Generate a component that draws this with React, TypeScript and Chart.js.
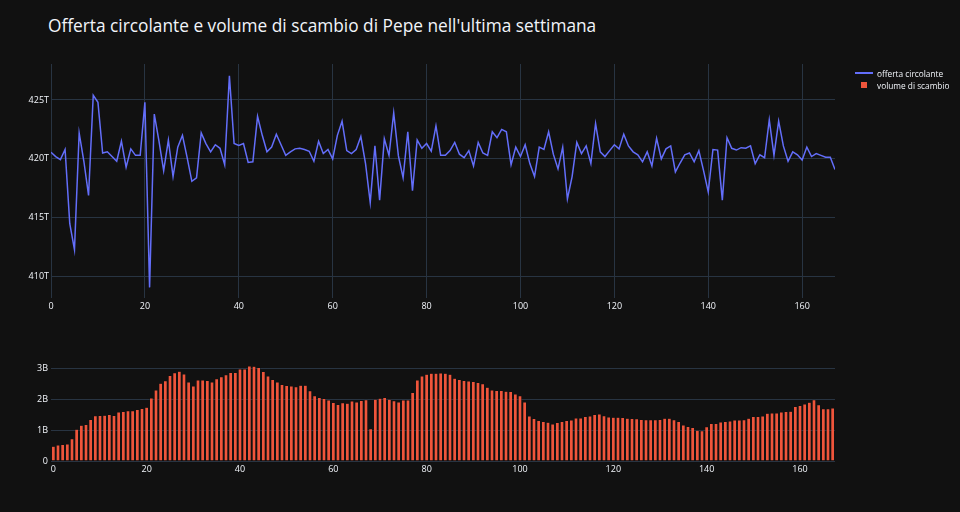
import React, { useEffect, useRef } from "react";
import { Chart, registerables } from "chart.js";

Chart.register(...registerables);

const hours: number[] = Array.from({ length: 168 }, (_, i) => i);

const supplyT: number[] = [
  420.57, 420.2, 419.94, 420.8, 414.5, 412.3, 422.2, 419.8, 416.9, 425.4,
  424.8, 420.5, 420.6, 420.2, 419.8, 421.5, 419.3, 420.85, 420.3, 420.3,
  424.8, 409.1, 423.8, 421.5, 419.0, 421.6, 418.5, 421.0, 422.0, 420.1,
  418.1, 418.4, 422.2, 421.3, 420.6, 421.2, 420.9, 419.5, 427.05, 421.3,
  421.15, 421.3, 419.7, 419.75, 423.6, 422.0, 420.6, 421.0, 422.1, 421.2,
  420.3, 420.6, 420.85, 420.9, 420.8, 420.65, 419.8, 421.5, 420.45, 420.8,
  420.0, 422.0, 423.2, 420.7, 420.45, 420.8, 421.9, 419.6, 416.3, 421.1,
  416.5, 421.7, 420.3, 423.9, 420.25, 418.4, 422.3, 417.3, 421.6, 420.9,
  421.3, 420.65, 422.8, 420.3, 420.3, 420.7, 421.4, 420.4, 420.1, 420.7,
  419.4, 421.4, 420.5, 420.3, 422.3, 421.8, 422.5, 422.3, 419.5, 421.0,
  420.2, 421.2, 419.6, 418.5, 421.0, 420.8, 422.3, 420.4, 419.15, 421.0,
  416.6, 418.5, 421.4, 420.45, 421.1, 419.6, 423.0, 420.6, 420.2, 420.7,
  421.2, 420.85, 422.1, 421.1, 420.6, 420.35, 419.75, 420.6, 419.4, 421.75,
  420.0, 420.85, 421.1, 418.9, 419.65, 420.35, 420.5, 419.75, 420.7, 419.0,
  417.2, 420.8, 420.75, 416.5, 421.8, 420.9, 420.75, 420.95, 420.9, 421.1,
  419.6, 420.35, 420.1, 423.3, 420.3, 423.2, 421.1, 419.8, 420.6, 420.35,
  419.9, 421.0, 420.2, 420.45, 420.3, 420.15, 420.15, 419.1,
];

const volumeB: number[] = [
  0.48, 0.52, 0.54, 0.55, 0.72, 1.03, 1.16, 1.19, 1.35, 1.47,
  1.48, 1.49, 1.51, 1.48, 1.59, 1.61, 1.63, 1.63, 1.67, 1.71,
  1.75, 2.05, 2.31, 2.53, 2.61, 2.78, 2.87, 2.92, 2.83, 2.57,
  2.44, 2.63, 2.63, 2.62, 2.57, 2.67, 2.74, 2.8, 2.88, 2.88,
  2.99, 2.99, 3.09, 3.08, 3.04, 2.91, 2.76, 2.65, 2.57, 2.49,
  2.45, 2.44, 2.41, 2.46, 2.46, 2.28, 2.12, 2.06, 2.03, 1.98,
  1.9, 1.84, 1.89, 1.88, 1.95, 1.92, 1.97, 1.99, 1.05, 2.01,
  2.04, 2.06, 2.01, 1.96, 1.92, 1.98, 1.98, 2.23, 2.63, 2.76,
  2.82, 2.85, 2.85, 2.86, 2.85, 2.82, 2.69, 2.65, 2.62, 2.6,
  2.58, 2.55, 2.51, 2.4, 2.31, 2.29, 2.29, 2.27, 2.26, 2.18,
  2.12, 1.92, 1.46, 1.38, 1.32, 1.28, 1.26, 1.2, 1.25, 1.28,
  1.32, 1.33, 1.4, 1.4, 1.45, 1.46, 1.51, 1.53, 1.47, 1.43,
  1.42, 1.42, 1.41, 1.39, 1.38, 1.37, 1.35, 1.34, 1.34, 1.34,
  1.35, 1.39, 1.39, 1.34, 1.28, 1.17, 1.12, 1.09, 1.0, 0.98,
  1.11, 1.22, 1.22, 1.27, 1.28, 1.3, 1.33, 1.33, 1.34, 1.39,
  1.45, 1.45, 1.46, 1.55, 1.56, 1.56, 1.59, 1.61, 1.62, 1.77,
  1.8, 1.85, 1.91, 1.99, 1.83, 1.7, 1.7, 1.72,
];

const xTicks: number[] = [0, 20, 40, 60, 80, 100, 120, 140, 160];
const supplyTicks: number[] = [410, 415, 420, 425];
const volumeTicks: number[] = [0, 1, 2, 3];
const volumeTickLabels: string[] = ["0", "1B", "2B", "3B"];

const TITLE = "Offerta circolante e volume di scambio di Pepe nell'ultima settimana";
const SUPPLY_LABEL = "offerta circolante";
const VOLUME_LABEL = "volume di scambio";

const BG = "#111111";
const GRID = "#283442";
const TEXT = "#f2f5fa";
const LINE = "#636efa";
const BAR = "#EF553B";
const FONT = "'Open Sans', 'DejaVu Sans', sans-serif";

export default function App() {
  const topRef = useRef<HTMLCanvasElement | null>(null);
  const botRef = useRef<HTMLCanvasElement | null>(null);

  useEffect(() => {
    const tickFont = { family: FONT, size: 9 };
    const top = new Chart(topRef.current as HTMLCanvasElement, {
      type: "line",
      data: {
        datasets: [
          {
            label: SUPPLY_LABEL,
            data: hours.map((h, i) => ({ x: h, y: supplyT[i] })),
            borderColor: LINE,
            backgroundColor: LINE,
            borderWidth: 1.5,
            pointRadius: 0,
            tension: 0,
          },
        ],
      },
      options: {
        animation: false,
        responsive: false,
        layout: { padding: { top: 64, right: 125, bottom: 0, left: 0 } },
        plugins: { legend: { display: false }, tooltip: { enabled: false } },
        scales: {
          x: {
            type: "linear",
            min: 0,
            max: 167,
            afterBuildTicks: (s: any) => {
              s.ticks = xTicks.map((v) => ({ value: v }));
            },
            afterFit: (s: any) => {
              s.height = 32;
            },
            grid: { color: GRID, drawTicks: false, lineWidth: 1 },
            border: { display: false },
            ticks: { color: TEXT, font: tickFont, padding: 3, maxRotation: 0, autoSkip: false },
          },
          y: {
            min: 408.2,
            max: 428.05,
            afterBuildTicks: (s: any) => {
              s.ticks = supplyTicks.map((v) => ({ value: v }));
            },
            afterFit: (s: any) => {
              s.width = 51;
            },
            grid: { color: GRID, drawTicks: false },
            border: { display: false },
            ticks: {
              color: TEXT,
              font: tickFont,
              padding: 2,
              callback: (v: any) => `${v}T`,
            },
          },
        },
      },
    });

    const bottom = new Chart(botRef.current as HTMLCanvasElement, {
      type: "bar",
      data: {
        labels: hours.map((h) => String(h)),
        datasets: [
          {
            label: VOLUME_LABEL,
            data: volumeB,
            backgroundColor: BAR,
            borderColor: BG,
            borderWidth: 0.5,
            categoryPercentage: 1,
            barPercentage: 0.8,
          },
        ],
      },
      options: {
        animation: false,
        responsive: false,
        layout: { padding: { top: 21, right: 125, bottom: 0, left: 0 } },
        plugins: { legend: { display: false }, tooltip: { enabled: false } },
        scales: {
          x: {
            type: "category",
            afterFit: (s: any) => {
              s.height = 51;
            },
            grid: { display: false, drawTicks: false },
            border: { display: false },
            ticks: {
              color: TEXT,
              font: tickFont,
              padding: 3,
              maxRotation: 0,
              autoSkip: false,
              callback: (_v: any, idx: number) => (xTicks.includes(idx) ? String(idx) : ""),
            },
          },
          y: {
            min: 0,
            max: 3.25,
            afterBuildTicks: (s: any) => {
              s.ticks = volumeTicks.map((v) => ({ value: v }));
            },
            afterFit: (s: any) => {
              s.width = 51;
            },
            grid: { color: GRID, drawTicks: false },
            border: { display: false },
            ticks: {
              color: TEXT,
              font: tickFont,
              padding: 3,
              callback: (v: any) => volumeTickLabels[volumeTicks.indexOf(Number(v))] ?? "",
            },
          },
        },
      },
    });

    return () => {
      top.destroy();
      bottom.destroy();
    };
  }, []);

  return (
    <div
      style={{
        position: "fixed",
        left: 0,
        top: 0,
        width: 960,
        height: 512,
        background: BG,
        overflow: "hidden",
        fontFamily: FONT,
      }}
    >
      <div
        style={{
          position: "absolute",
          left: 48,
          top: 17,
          fontSize: 17.3,
          lineHeight: "17px",
          color: TEXT,
          whiteSpace: "nowrap",
        }}
      >
        {TITLE}
      </div>
      <canvas
        ref={topRef}
        width={960}
        height={330}
        style={{ position: "absolute", left: 0, top: 0, width: 960, height: 330 }}
      />
      <canvas
        ref={botRef}
        width={960}
        height={172}
        style={{ position: "absolute", left: 0, top: 340, width: 960, height: 172 }}
      />
      <div style={{ position: "absolute", left: 855, top: 72, width: 18, height: 2, background: LINE }} />
      <div
        style={{
          position: "absolute",
          left: 877,
          top: 68,
          fontSize: 8.3,
          lineHeight: "11px",
          color: TEXT,
          whiteSpace: "nowrap",
        }}
      >
        {SUPPLY_LABEL}
      </div>
      <div style={{ position: "absolute", left: 861, top: 82, width: 6, height: 6, background: BAR }} />
      <div
        style={{
          position: "absolute",
          left: 877,
          top: 80,
          fontSize: 8.3,
          lineHeight: "11px",
          color: TEXT,
          whiteSpace: "nowrap",
        }}
      >
        {VOLUME_LABEL}
      </div>
    </div>
  );
}
